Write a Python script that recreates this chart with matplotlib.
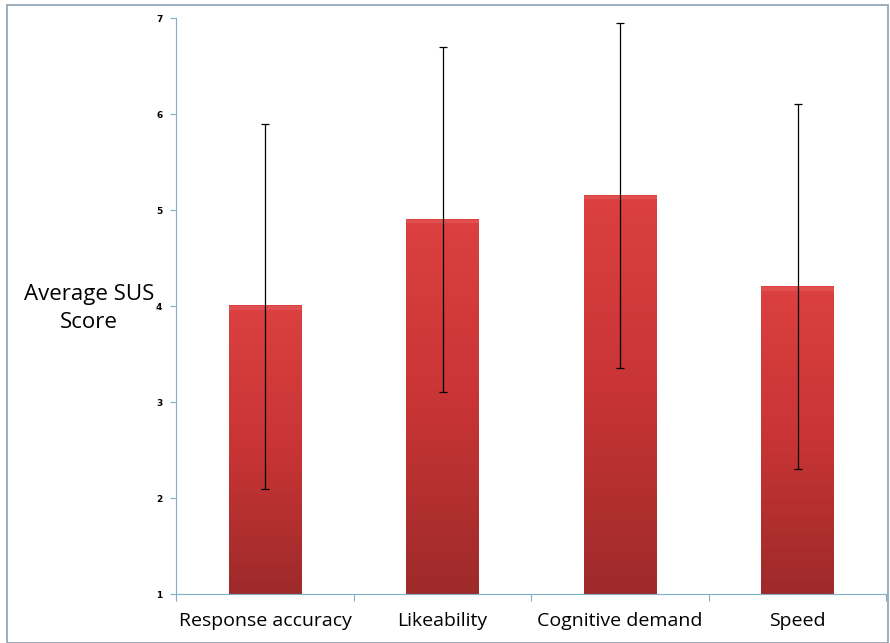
import numpy as np
import matplotlib.pyplot as plt
from matplotlib.patches import Rectangle
from matplotlib.colors import LinearSegmentedColormap

categories = ['Response accuracy', 'Likeability', 'Cognitive demand', 'Speed']
means = [4.0, 4.9, 5.15, 4.2]
err_low = [2.1, 3.1, 3.35, 2.3]
err_high = [5.9, 6.7, 6.95, 6.1]

fig = plt.figure(figsize=(8.9, 6.43), dpi=100)
fig.patches.append(Rectangle((0.008, 0.0), 0.99, 0.992, transform=fig.transFigure,
                             fill=False, edgecolor='#8c9fb0', linewidth=1.2))
ax = fig.add_axes([0.198, 0.076, 0.798, 0.896])

x = np.arange(len(categories))
bars = ax.bar(x, np.array(means) - 1, bottom=1, width=0.41, color='none', edgecolor='none')

# gradient fill, lighter at top
cmap = LinearSegmentedColormap.from_list('redgrad', ['#9e2a2a', '#c83434', '#dc4040'])
grad = np.linspace(0, 1, 256).reshape(-1, 1)
for b in bars:
    x0, y0 = b.get_x(), b.get_y()
    ax.imshow(grad, extent=(x0, x0 + b.get_width(), y0, y0 + b.get_height()),
              origin='lower', cmap=cmap, aspect='auto', zorder=2)
    ax.add_patch(Rectangle((x0, y0 + b.get_height() - 0.04), b.get_width(), 0.04,
                           color='#e05050', zorder=2.5, linewidth=0))

yerr = [np.array(means) - np.array(err_low), np.array(err_high) - np.array(means)]
ax.errorbar(x, means, yerr=yerr, fmt='none', ecolor='black', elinewidth=0.9,
            capsize=3, capthick=0.9, zorder=3)

ax.set_xlim(-0.5, 3.5)
ax.set_ylim(1, 7)
ax.set_yticks([1, 2, 3, 4, 5, 6, 7])
ax.set_xticks(np.arange(-0.5, 4.0, 1.0))
ax.set_xticklabels([])
ax.set_xticks(x, minor=True)
ax.set_xticklabels(categories, minor=True, fontsize=14, family='Open Sans')
ax.tick_params(axis='x', which='minor', length=0, pad=13)
ax.tick_params(axis='x', which='major', length=5, color='#7fb0c8', direction='out')
ax.tick_params(axis='y', length=4, color='#7fb0c8', labelsize=6.5, pad=6)
for lbl in ax.get_yticklabels():
    lbl.set_fontweight('bold')

for s in ['top', 'right']:
    ax.spines[s].set_visible(False)
ax.spines['left'].set_color('#7fb0c8')
ax.spines['bottom'].set_color('#7fb0c8')
ax.set_facecolor('none')

fig.text(0.1, 0.52, 'Average SUS\nScore', ha='center', va='center',
         fontsize=16, family='Open Sans', linespacing=1.4)

fig.savefig('out.png', dpi=100)
